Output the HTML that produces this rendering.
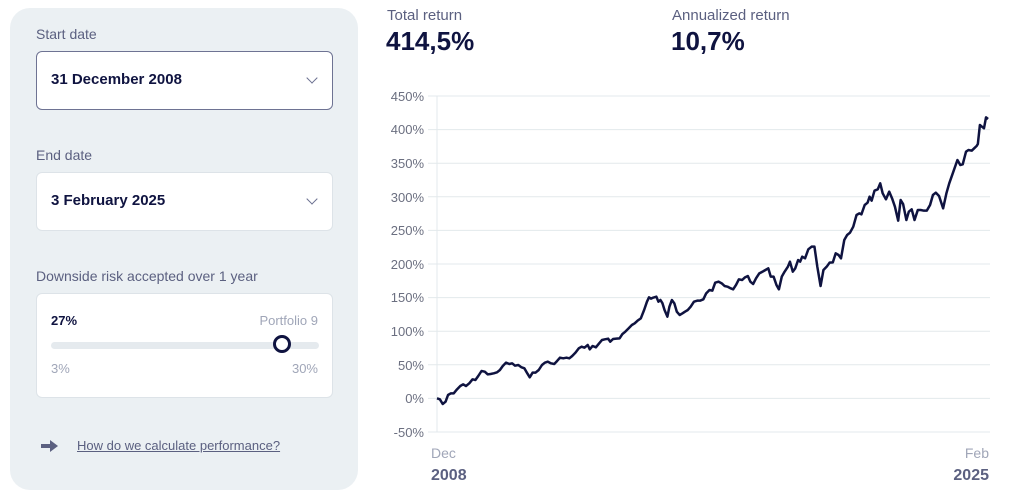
<!DOCTYPE html>
<html><head><meta charset="utf-8"><style>
*{margin:0;padding:0;box-sizing:border-box}
body{width:1022px;height:500px;background:#fff;font-family:"Liberation Sans",sans-serif;position:relative;overflow:hidden;color:#0f1340}
.abs{position:absolute}
.panel{left:10px;top:8px;width:348px;height:482px;background:#ebf0f3;border-radius:20px}
.lbl{font-size:14px;color:#5b6080}
.box{left:36px;width:297px;background:#fff;border-radius:6px;border:1px solid #dde3e8}
.val{font-size:15px;font-weight:bold;color:#0f1340}
.chev{width:8px;height:8px;border-right:1.5px solid #6b7090;border-bottom:1.5px solid #6b7090;transform:rotate(45deg)}
</style></head><body>
<div class="abs panel"></div>
<div class="abs lbl" style="left:36px;top:26px">Start date</div>
<div class="abs box" style="top:51px;height:59px;border-color:#6e7393">
  <div class="abs val" style="left:14px;top:19px">31 December 2008</div>
  <div class="abs chev" style="left:271px;top:22px"></div>
</div>
<div class="abs lbl" style="left:36px;top:147px">End date</div>
<div class="abs box" style="top:172px;height:59px">
  <div class="abs val" style="left:14px;top:19px">3 February 2025</div>
  <div class="abs chev" style="left:271px;top:22px"></div>
</div>
<div class="abs lbl" style="left:36px;top:268px">Downside risk accepted over 1 year</div>
<div class="abs box" style="top:293px;height:105px">
  <div class="abs" style="left:14px;top:19px;font-size:13px;font-weight:bold">27%</div>
  <div class="abs" style="right:14px;top:19px;font-size:13px;color:#a0a6b8">Portfolio 9</div>
  <div class="abs" style="left:14px;top:48px;width:268px;height:7px;border-radius:4px;background:#e5eaee"></div>
  <div class="abs" style="left:236px;top:41px;width:18px;height:18px;border-radius:50%;border:3px solid #0f1340;background:#fff"></div>
  <div class="abs" style="left:14px;top:67px;font-size:13px;color:#a0a6b8">3%</div>
  <div class="abs" style="right:14px;top:67px;font-size:13px;color:#a0a6b8">30%</div>
</div>
<div class="abs" style="left:40px;top:439px;width:19px;height:14px">
<svg width="19" height="14"><path d="M1 7H12" stroke="#5b6080" stroke-width="4"/><path d="M10 1L18 7L10 13Z" fill="#5b6080"/></svg></div>
<div class="abs" style="left:77px;top:438px;font-size:13px;color:#5b6080;text-decoration:underline">How do we calculate performance?</div>

<div class="abs lbl" style="left:387px;top:7px;font-size:15px">Total return</div>
<div class="abs" style="left:386px;top:26px;font-size:26px;font-weight:bold">414,5%</div>
<div class="abs lbl" style="left:672px;top:7px;font-size:15px">Annualized return</div>
<div class="abs" style="left:671px;top:26px;font-size:26px;font-weight:bold">10,7%</div>

<svg class="abs" style="left:0;top:0" width="1022" height="500">
<g stroke="#e3e9ec" stroke-width="1">
<line x1="428" x2="990" y1="96" y2="96"/><line x1="428" x2="990" y1="129.6" y2="129.6"/><line x1="428" x2="990" y1="163.2" y2="163.2"/><line x1="428" x2="990" y1="196.8" y2="196.8"/><line x1="428" x2="990" y1="230.4" y2="230.4"/><line x1="428" x2="990" y1="264" y2="264"/><line x1="428" x2="990" y1="297.6" y2="297.6"/><line x1="428" x2="990" y1="331.2" y2="331.2"/><line x1="428" x2="990" y1="364.8" y2="364.8"/><line x1="428" x2="990" y1="398.4" y2="398.4"/><line x1="428" x2="990" y1="432" y2="432"/>
<line x1="437" x2="437" y1="96" y2="432"/>
</g>
<g font-size="13" fill="#6b6f80" text-anchor="end">
<text x="424" y="101">450%</text><text x="424" y="134">400%</text><text x="424" y="168">350%</text><text x="424" y="202">300%</text><text x="424" y="235">250%</text><text x="424" y="269">200%</text><text x="424" y="302">150%</text><text x="424" y="336">100%</text><text x="424" y="370">50%</text><text x="424" y="403">0%</text><text x="424" y="437">-50%</text>
</g>
<text x="431" y="458" font-size="14" fill="#a0a6b8">Dec</text>
<text x="431" y="480" font-size="16" font-weight="bold" fill="#5b6080">2008</text>
<text x="989" y="458" font-size="14" fill="#a0a6b8" text-anchor="end">Feb</text>
<text x="989" y="480" font-size="16" font-weight="bold" fill="#5b6080" text-anchor="end">2025</text>
<g transform="translate(379.4,80) scale(0.4085,0.33333)">
<polyline fill="none" stroke="#0f1340" stroke-width="2.5" vector-effect="non-scaling-stroke" stroke-linejoin="round" points="141,955 148,958 155,972 162,965 168,945 175,940 182,940 190,928 198,918 205,913 212,918 220,910 228,898 235,900 242,888 250,873 258,875 265,883 272,882 280,880 288,877 295,870 302,858 310,848 318,852 325,850 332,857 340,855 348,862 355,865 362,880 368,892 375,878 382,878 390,870 398,855 405,848 412,845 420,850 428,852 435,843 442,833 450,835 458,833 465,835 472,828 480,818 488,805 495,800 502,803 510,795 515,808 522,798 530,802 538,790 545,780 552,778 560,776 565,785 572,777 580,776 588,775 595,762 602,755 610,745 618,735 625,730 632,722 640,715 648,690 655,665 660,652 665,656 670,653 678,650 683,665 688,660 693,670 698,690 705,710 710,680 716,660 722,670 728,695 735,705 742,700 748,695 755,690 762,680 770,665 778,662 785,662 793,658 800,640 808,630 815,632 822,608 830,605 838,610 845,618 852,620 860,625 866,628 873,615 880,598 888,600 895,592 902,588 908,605 915,612 922,595 930,580 938,575 945,570 952,565 958,590 965,590 972,615 978,628 985,590 992,575 1000,560 1005,545 1012,575 1018,565 1025,540 1030,545 1035,530 1042,535 1050,508 1058,500 1065,500 1072,560 1080,618 1087,570 1095,560 1102,548 1110,547 1117,520 1124,525 1130,535 1138,480 1145,465 1152,458 1160,440 1168,405 1175,400 1180,403 1188,375 1195,368 1200,350 1205,362 1212,332 1220,328 1226,310 1232,340 1240,358 1248,335 1255,355 1262,380 1270,422 1276,360 1282,372 1290,420 1296,395 1303,388 1310,420 1318,390 1325,390 1333,392 1340,392 1348,375 1355,345 1362,338 1370,348 1380,385 1388,340 1395,310 1405,275 1415,240 1422,255 1428,253 1436,215 1442,210 1450,212 1456,205 1462,198 1465,192 1470,135 1475,140 1480,145 1485,112 1490,117"/>
</g>
</svg>
</body></html>
